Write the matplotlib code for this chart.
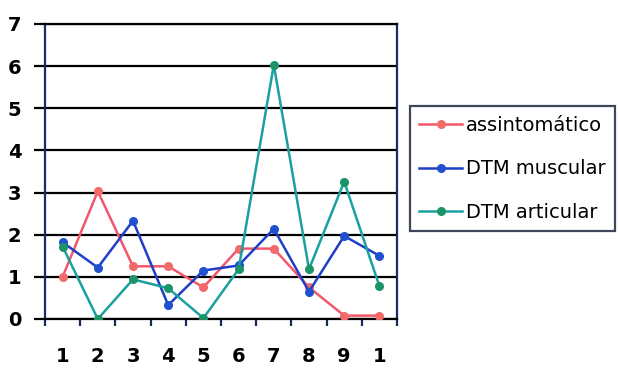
import matplotlib.pyplot as plt

categories = ["1", "2", "3", "4", "5", "6", "7", "8", "9", "1"]
assintomatico = [1.0, 3.03, 1.25, 1.25, 0.75, 1.67, 1.67, 0.75, 0.08, 0.08]
dtm_muscular = [1.82, 1.22, 2.33, 0.33, 1.15, 1.27, 2.14, 0.65, 1.97, 1.5]
dtm_articular = [1.72, 0.0, 0.94, 0.73, 0.02, 1.18, 6.03, 1.18, 3.26, 0.78]

series = [
    ("assintomático", assintomatico, "#f2586a", "#f26a6a"),
    ("DTM muscular", dtm_muscular, "#1f3fc6", "#2050d0"),
    ("DTM articular", dtm_articular, "#1aa0a0", "#1d9468"),
]

fig = plt.figure(figsize=(6.18, 3.72), dpi=100)
ax = fig.add_axes([0.0728, 0.1425, 0.5696, 0.793])

x = range(1, len(categories) + 1)
for name, vals, line_c, mark_c in series:
    ax.plot(x, vals, color=line_c, lw=1.8, marker="o", ms=5.5,
            mfc=mark_c, mec=mark_c, label=name, zorder=3)

ax.set_xlim(0.5, len(categories) + 0.5)
ax.set_ylim(0, 7)
ax.set_yticks(range(0, 8))
ax.yaxis.grid(True, color="black", lw=1.6)
ax.set_axisbelow(True)

# category labels sit between the boundary ticks
ax.set_xticks([i + 0.5 for i in range(len(categories) + 1)])
ax.set_xticklabels([])
ax.set_xticks(list(x), minor=True)
ax.set_xticklabels(categories, minor=True, fontsize=14, fontweight="bold")
ax.tick_params(axis="x", which="minor", length=0, pad=20)
ax.tick_params(axis="x", which="major", length=5, width=1.6, color="#1a2a5a")
ax.tick_params(axis="y", length=8, width=1.6, labelsize=14, pad=9)
for lab in ax.get_yticklabels():
    lab.set_fontweight("bold")

ax.spines["left"].set_color("#1a2a6a")
ax.spines["right"].set_color("#1a2a6a")
ax.spines["top"].set_color("black")
ax.spines["bottom"].set_color("black")
for s in ax.spines.values():
    s.set_linewidth(1.6)

leg = fig.legend(loc="upper left", bbox_to_anchor=(0.663, 0.714),
                 fancybox=False, edgecolor="#101830", fontsize=14,
                 handlelength=2.2, handletextpad=0.2, labelspacing=1.25,
                 borderpad=0.5, borderaxespad=0)
leg.get_frame().set_linewidth(1.6)

fig.savefig("out.png", dpi=100)
